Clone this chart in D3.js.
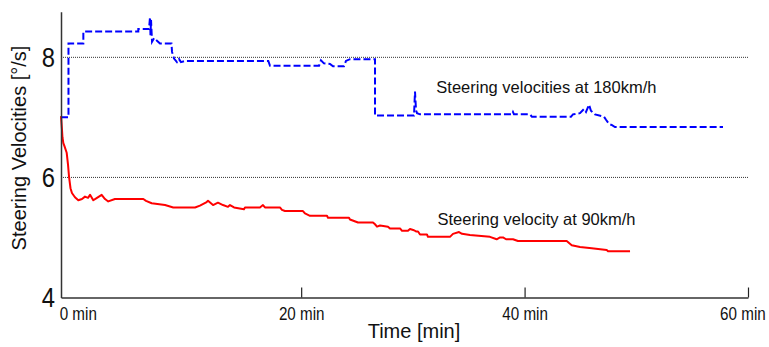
<!DOCTYPE html>
<html>
<head>
<meta charset="utf-8">
<script src="https://cdn.jsdelivr.net/npm/d3@7"></script>
<style>
  body { margin: 0; background: #fff; }
  svg { display: block; }
  .label { font-family: "Liberation Sans", Arial, sans-serif; }
</style>
</head>
<body>
<svg width="769" height="347"></svg>
<script>
// steering velocity at 180 km/h (blue, dashed)
const time180 = [-1.5,-0.83,-0.83,0.5,0.5,5.42,5.42,6.38,6.47,6.51,6.56,6.65,6.83,7.36,8.39,8.44,8.62,8.88,9.06,9.24,9.6,17.06,17.21,21.6,21.77,22.04,22.58,22.85,23.83,24.01,24.37,26.61,26.61,30.1,30.19,30.28,30.37,30.64,38.87,38.96,39.05,40.48,40.66,44.15,44.33,44.96,45.32,45.5,45.77,45.94,46.3,47.11,47.29,47.56,47.83,48.09,57.76];
const vel180 = [7.0,7.0,8.23,8.23,8.43,8.43,8.47,8.47,8.67,8.37,8.62,8.26,8.32,8.23,8.23,8.09,7.98,7.92,7.97,7.92,7.94,7.94,7.86,7.86,7.95,7.9,7.89,7.85,7.85,7.94,7.97,7.97,7.03,7.03,7.43,7.12,7.07,7.05,7.05,7.09,7.05,7.05,7.01,7.01,7.05,7.07,7.14,7.09,7.21,7.11,7.05,7.01,6.96,6.89,6.87,6.84,6.84];

// steering velocity at 90 km/h (red, solid)
const time90 = [-1.5,-1.41,-1.37,-1.29,-1.19,-0.99,-0.87,-0.78,-0.65,-0.52,
  -0.25,0.05,0.38,0.65,0.92,1.1,1.39,1.72,2.14,2.44,
  2.73,3.33,4.23,5.87,6.11,6.62,7.81,8.55,10.5,10.94,
  11.54,11.66,12.11,12.55,13.0,13.45,13.63,13.99,14.88,14.97,
  16.31,16.58,16.76,18.1,18.28,18.55,20.16,20.34,20.79,22.31,
  22.4,24.28,24.37,25.09,26.43,26.61,26.79,27.06,27.77,27.95,
  28.85,29.03,29.56,29.74,30.1,30.28,30.46,30.64,31.26,31.35,
  33.32,33.59,34.13,34.4,35.11,36.9,37.5,37.8,38.07,38.34,
  38.96,39.41,43.77,44.22,44.96,46.01,47.35,47.47,49.44];
const vel90 = [7.02,6.79,6.67,6.57,6.52,6.41,6.21,6.01,5.82,5.74,
  5.67,5.62,5.64,5.68,5.66,5.71,5.62,5.66,5.71,5.64,
  5.6,5.64,5.64,5.64,5.61,5.57,5.54,5.5,5.5,5.53,
  5.59,5.61,5.54,5.58,5.54,5.51,5.54,5.5,5.47,5.5,
  5.5,5.54,5.5,5.5,5.46,5.44,5.44,5.4,5.36,5.36,
  5.33,5.33,5.3,5.25,5.25,5.22,5.18,5.2,5.18,5.15,
  5.15,5.11,5.11,5.14,5.12,5.1,5.1,5.05,5.05,5.01,
  5.01,5.06,5.09,5.06,5.04,5.01,4.97,5.0,5.0,4.97,
  4.97,4.94,4.94,4.87,4.84,4.82,4.79,4.77,4.77];

const xTicks = [0, 20, 40, 60];
const yTicks = [4, 6, 8];
const gridLevels = [6, 8];
const notes = [
  { text: "Steering velocities at 180km/h", t: 32.1, v: 7.41 },
  { text: "Steering velocity at 90km/h", t: 32.2, v: 5.21 }
];

const svg = d3.select("svg");
const plotLeft = 61, plotRight = 748, plotTop = 11.7, plotBottom = 297.5;

const x = d3.scaleLinear().domain([-1.5, 60]).range([plotLeft, plotRight]);
const y = d3.scaleLinear().domain([4, 8.76]).range([plotBottom, plotTop]);

// dotted reference lines
svg.append("g").selectAll("line").data(gridLevels).join("line")
  .attr("x1", plotLeft).attr("x2", plotRight)
  .attr("y1", d => y(d)).attr("y2", d => y(d))
  .attr("stroke", "#333").attr("stroke-width", 1)
  .attr("stroke-dasharray", "1,1");

const line = d3.line().x(d => x(d[0])).y(d => y(d[1]));

svg.append("path")
  .datum(d3.zip(time90, vel90))
  .attr("d", line)
  .attr("fill", "none").attr("stroke", "#ff0000").attr("stroke-width", 2)
  .attr("stroke-linejoin", "round");

svg.append("path")
  .datum(d3.zip(time180, vel180))
  .attr("d", line)
  .attr("fill", "none").attr("stroke", "#0000ff").attr("stroke-width", 2)
  .attr("stroke-dasharray", "7,3");

// axes (tick labels squeezed horizontally to mimic the narrow font)
const xAxis = svg.append("g")
  .attr("transform", `translate(0,${plotBottom})`)
  .call(d3.axisBottom(x).tickValues(xTicks).tickFormat(d => d + " min")
    .tickSizeInner(-10).tickSizeOuter(0).tickPadding(9));
xAxis.select(".domain").attr("stroke", "#333").attr("stroke-width", 1.5);
xAxis.selectAll(".tick line").attr("stroke", "#222").attr("stroke-width", 1.2)
  .attr("display", d => d === 0 ? "none" : null);
xAxis.selectAll(".tick text")
  .attr("class", "label").attr("font-size", 19).attr("fill", "#111")
  .attr("transform", "scale(0.8,1)");
xAxis.selectAll(".tick").filter(d => d === 60).select("text").attr("x", -7);

const yAxis = svg.append("g")
  .attr("transform", `translate(${plotLeft},0)`)
  .call(d3.axisLeft(y).tickValues(yTicks).tickFormat(d3.format("d"))
    .tickSize(0).tickPadding(7));
yAxis.select(".domain").attr("stroke", "#333").attr("stroke-width", 1.5);
yAxis.selectAll(".tick text")
  .attr("class", "label").attr("font-size", 28).attr("fill", "#111")
  .attr("transform", "scale(0.85,1)");

// axis titles
svg.append("text").attr("class", "label")
  .attr("x", 414).attr("y", 338)
  .attr("text-anchor", "middle").attr("font-size", 20).attr("fill", "#111")
  .text("Time [min]");

svg.append("text").attr("class", "label")
  .attr("transform", "translate(26,148) rotate(-90)")
  .attr("text-anchor", "middle").attr("font-size", 20).attr("fill", "#111")
  .text("Steering Velocities [°/s]");

// line annotations
svg.append("g").selectAll("text").data(notes).join("text")
  .attr("class", "label")
  .attr("x", d => x(d.t)).attr("y", d => y(d.v))
  .attr("font-size", 16.5).attr("fill", "#111")
  .text(d => d.text);
</script>
</body>
</html>
